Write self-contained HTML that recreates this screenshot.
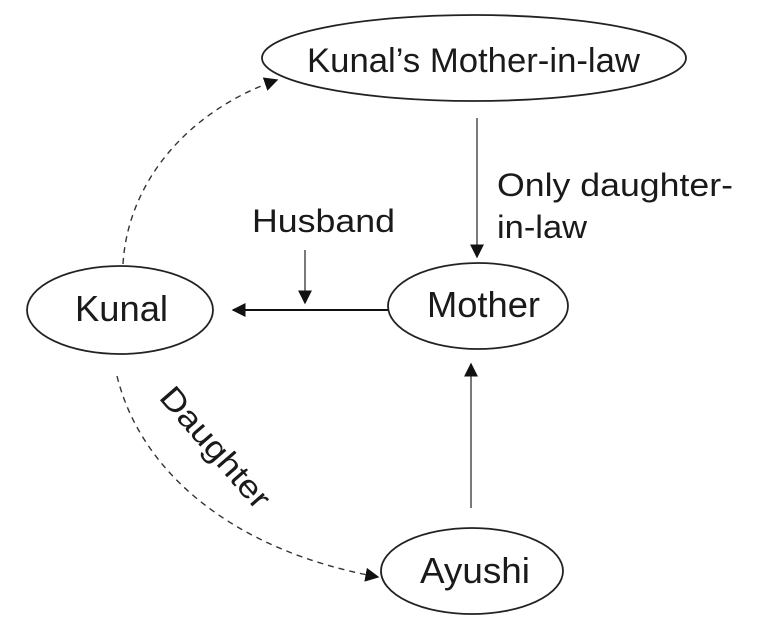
<!DOCTYPE html>
<html><head><meta charset="utf-8"><style>
html,body{margin:0;padding:0;background:#fff;}
svg{display:block;}
text{font-family:"Liberation Sans",Arial,sans-serif;fill:#1a1a1a;}
</style></head><body>
<svg width="763" height="631" viewBox="0 0 763 631" xmlns="http://www.w3.org/2000/svg">
<defs>
<marker id="ah" viewBox="0 0 10 10" refX="9" refY="5" markerWidth="14" markerHeight="14" markerUnits="userSpaceOnUse" orient="auto">
<path d="M0,0 L10,5 L0,10 z" fill="#111"/>
</marker>
</defs>
<g fill="none" stroke="#222" stroke-width="1.8">
<ellipse cx="474" cy="58" rx="212" ry="43"/>
<ellipse cx="120" cy="310" rx="93" ry="44"/>
<ellipse cx="478" cy="306" rx="90" ry="43"/>
<ellipse cx="472" cy="571" rx="91" ry="43"/>
</g>
<text x="307" y="72" font-size="34" textLength="333" lengthAdjust="spacingAndGlyphs">Kunal’s Mother-in-law</text>
<text x="75" y="321" font-size="36" textLength="93" lengthAdjust="spacingAndGlyphs">Kunal</text>
<text x="427" y="317" font-size="36" textLength="113" lengthAdjust="spacingAndGlyphs">Mother</text>
<text x="420" y="583" font-size="36" textLength="110" lengthAdjust="spacingAndGlyphs">Ayushi</text>
<text x="252" y="232" font-size="32" textLength="143" lengthAdjust="spacingAndGlyphs">Husband</text>
<text x="497" y="196" font-size="32" textLength="236" lengthAdjust="spacingAndGlyphs">Only daughter-</text>
<text x="497" y="238" font-size="32" textLength="90" lengthAdjust="spacingAndGlyphs">in-law</text>
<text x="0" y="0" font-size="32" textLength="150" lengthAdjust="spacingAndGlyphs" transform="translate(158,398) rotate(49)">Daughter</text>
<g stroke="#333" stroke-width="1.3" fill="none">
<line x1="477" y1="118" x2="477" y2="257" marker-end="url(#ah)"/>
<line x1="305" y1="250" x2="305" y2="303" marker-end="url(#ah)"/>
<line x1="471" y1="508" x2="471" y2="364" marker-end="url(#ah)"/>
</g>
<line x1="388" y1="310" x2="233" y2="310" stroke="#111" stroke-width="2" marker-end="url(#ah)"/>
<g stroke="#333" stroke-width="1.4" fill="none" stroke-dasharray="6,5">
<path d="M123,264 C128,180 190,110 277,80" marker-end="url(#ah)"/>
<path d="M117,376 C140,470 230,550 378,577" marker-end="url(#ah)"/>
</g>
</svg>
</body></html>
